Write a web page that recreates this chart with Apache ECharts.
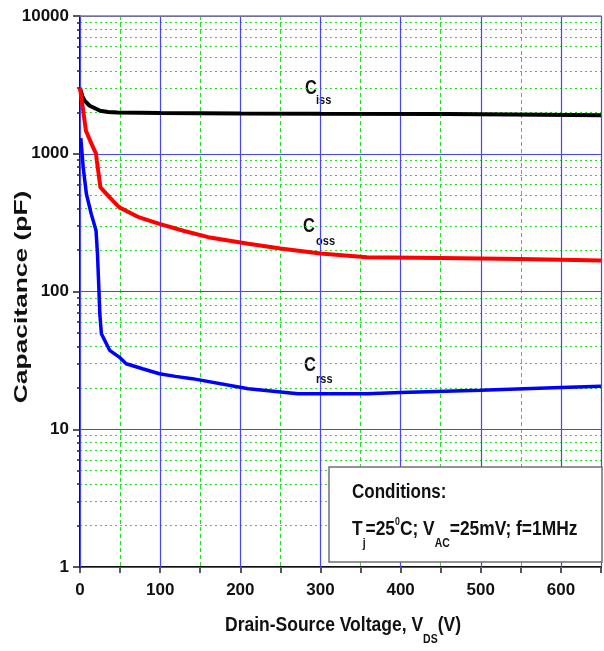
<!DOCTYPE html>
<html>
<head>
<meta charset="utf-8">
<script src="https://cdn.jsdelivr.net/npm/echarts@6/dist/echarts.min.js"></script>
<style>
  html, body { margin: 0; padding: 0; background: #fff; }
  #chart { width: 604px; height: 651px; }
</style>
</head>
<body>
<div id="chart"></div>
<script>
// Capacitance vs drain-source voltage (log scale), three curves
const cissV = [0, 1, 3, 6, 12, 20, 25, 35, 47, 100, 200, 300, 458, 460, 650];
const cissC = [3000, 2950, 2600, 2420, 2230, 2120, 2050, 2010, 1990, 1975, 1960, 1950, 1940, 1905, 1900];

const cossV = [0, 1, 4, 7.4, 14.4, 20, 21, 25.5, 37, 49, 74, 99, 130, 160, 210, 250, 300, 358, 450, 550, 650];
const cossC = [3000, 2950, 2050, 1470, 1180, 1000, 890, 570, 482, 408, 345, 310, 275, 248, 222, 205, 189, 177, 175, 172, 168];

const crssV = [1, 4, 8, 14, 20, 21.8, 23.5, 24.7, 26.7, 37, 49, 57.6, 78, 99, 119, 140, 210, 272, 358, 400, 500, 600, 650];
const crssC = [1300, 796, 510, 366, 277, 188, 107, 69, 49.4, 37.4, 33.4, 29.9, 27.5, 25.3, 24.2, 23.3, 19.7, 18.1, 18.1, 18.5, 19.2, 20.1, 20.5];

const xTicksMajor = [0, 100, 200, 300, 400, 500, 600];

const pairs = (xs, ys) => xs.map((x, i) => [x, ys[i]]);

const NARROW = '"Liberation Sans Narrow", "Arial Narrow", "Liberation Sans", Arial, sans-serif';
const SANS = '"Liberation Sans", Arial, sans-serif';

const chart = echarts.init(document.getElementById('chart'), null, { renderer: 'canvas' });

const option = {
  animation: false,
  backgroundColor: '#fff',
  grid: { left: 80, top: 16, bottom: 84, right: -3, containLabel: false },
  xAxis: [
    {
      // 50 V ticks, green dashed grid
      type: 'value', min: 0, max: 650, interval: 50, position: 'bottom', z: 0,
      axisLine: { show: true, lineStyle: { color: '#111', width: 2 } },
      axisTick: { show: true, length: 6, lineStyle: { color: '#222', width: 1.5 } },
      axisLabel: {
        margin: 15, color: '#111', fontFamily: NARROW, fontWeight: 'bold', fontSize: 17,
        formatter: v => (xTicksMajor.indexOf(v) >= 0 ? String(v) : '')
      },
      splitLine: { show: true, lineStyle: { color: '#22e022', width: 1, type: [4, 3] } }
    },
    {
      // 100 V blue grid and gray top border
      type: 'value', min: 0, max: 650, interval: 100, position: 'top', z: 2,
      axisLine: { show: true, lineStyle: { color: '#808080', width: 1.5 } },
      axisTick: { show: false },
      axisLabel: { show: false },
      splitLine: { show: true, lineStyle: { color: '#4545ff', width: 1.2 } }
    }
  ],
  yAxis: {
    type: 'log', logBase: 10, min: 1, max: 10000, z: 1,
    axisLine: { show: true, lineStyle: { color: '#111', width: 2 } },
    axisTick: { show: true, length: 7, lineStyle: { color: '#222', width: 1.5 } },
    minorTick: { show: true, splitNumber: 9, length: 3, lineStyle: { color: '#222', width: 1.5 } },
    axisLabel: {
      margin: 11, color: '#111', fontFamily: NARROW, fontWeight: 'bold', fontSize: 17,
      formatter: v => String(Math.round(v))
    },
    splitLine: { show: true, lineStyle: { color: '#4545ff', width: 1.2 } },
    minorSplitLine: { show: true, lineStyle: { color: '#22e022', width: 1, type: [2, 3] } }
  },
  series: [
    {
      name: 'Ciss', type: 'line', data: pairs(cissV, cissC), showSymbol: false, z: 5,
      lineStyle: { color: '#000', width: 4 }, itemStyle: { color: '#000' }
    },
    {
      name: 'Coss', type: 'line', data: pairs(cossV, cossC), showSymbol: false, z: 5,
      lineStyle: { color: '#ff0000', width: 4 }, itemStyle: { color: '#ff0000' }
    },
    {
      name: 'Crss', type: 'line', data: pairs(crssV, crssC), showSymbol: false, z: 5,
      lineStyle: { color: '#0000ff', width: 3.5 }, itemStyle: { color: '#0000ff' }
    }
  ],
  graphic: [
    // y-axis title
    {
      type: 'text', x: 22, y: 297, rotation: Math.PI / 2, scaleX: 1.32, scaleY: 0.92,
      style: { text: 'Capacitance (pF)', fontFamily: SANS, fontWeight: 'bold', fontSize: 20,
               fill: '#111', align: 'center', verticalAlign: 'middle' }
    },
    // x-axis title
    {
      type: 'text', x: 225, y: 625, scaleX: 0.875,
      style: {
        text: '{m|Drain-Source Voltage, V}{s|DS}{m|(V)}',
        align: 'left', verticalAlign: 'middle',
        rich: {
          m: { fontFamily: SANS, fontWeight: 'bold', fontSize: 20, lineHeight: 42, fill: '#111', color: '#111' },
          s: { fontFamily: SANS, fontWeight: 'bold', fontSize: 12, lineHeight: 12, verticalAlign: 'bottom', fill: '#111', color: '#111' }
        }
      }
    },
    // curve labels
    { type: 'text', x: 305, y: 88, scaleX: 0.82, style: { text: 'C', fontFamily: SANS, fontWeight: 'bold', fontSize: 20, fill: '#111', verticalAlign: 'middle' } },
    { type: 'text', x: 316, y: 100, scaleX: 0.85, style: { text: 'iss', fontFamily: SANS, fontWeight: 'bold', fontSize: 13, fill: '#111', verticalAlign: 'middle' } },
    { type: 'text', x: 303, y: 226, scaleX: 0.82, style: { text: 'C', fontFamily: SANS, fontWeight: 'bold', fontSize: 20, fill: '#111', verticalAlign: 'middle' } },
    { type: 'text', x: 316, y: 241, scaleX: 0.85, style: { text: 'oss', fontFamily: SANS, fontWeight: 'bold', fontSize: 13, fill: '#111', verticalAlign: 'middle' } },
    { type: 'text', x: 304, y: 365, scaleX: 0.82, style: { text: 'C', fontFamily: SANS, fontWeight: 'bold', fontSize: 20, fill: '#111', verticalAlign: 'middle' } },
    { type: 'text', x: 316, y: 379, scaleX: 0.85, style: { text: 'rss', fontFamily: SANS, fontWeight: 'bold', fontSize: 13, fill: '#111', verticalAlign: 'middle' } },
    // conditions box
    {
      type: 'rect', z: 10, shape: { x: 329, y: 467, width: 273, height: 95 },
      style: { fill: '#fff', stroke: '#707070', lineWidth: 1.5 }
    },
    {
      type: 'text', z: 11, x: 352, y: 492, scaleX: 0.85,
      style: { text: 'Conditions:', fontFamily: SANS, fontWeight: 'bold', fontSize: 20, fill: '#111', verticalAlign: 'middle' }
    },
    {
      type: 'text', z: 11, x: 352, y: 529, scaleX: 0.87,
      style: {
        text: '{m|T}{s|j}{m|=25}{p|0}{m|C; V}{s|AC}{m|=25mV; f=1MHz}',
        align: 'left', verticalAlign: 'middle',
        rich: {
          m: { fontFamily: SANS, fontWeight: 'bold', fontSize: 20, lineHeight: 42, fill: '#111', color: '#111' },
          s: { fontFamily: SANS, fontWeight: 'bold', fontSize: 12, lineHeight: 12, verticalAlign: 'bottom', fill: '#111', color: '#111' },
          p: { fontFamily: SANS, fontWeight: 'bold', fontSize: 10, lineHeight: 10, verticalAlign: 'top', padding: [9, 0, 0, 0], fill: '#111', color: '#111' }
        }
      }
    }
  ]
};

chart.setOption(option);
</script>
</body>
</html>
